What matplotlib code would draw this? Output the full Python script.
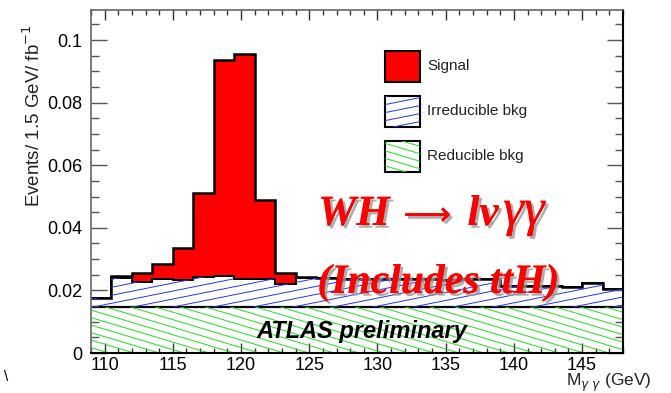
import numpy as np
import matplotlib
matplotlib.use('Agg')
import matplotlib.pyplot as plt
import matplotlib.patheffects as pe
from matplotlib.collections import LineCollection
from matplotlib.patches import Rectangle
from matplotlib.ticker import MultipleLocator, FuncFormatter

plt.rcParams['font.family'] = ['Liberation Sans', 'DejaVu Sans']
plt.rcParams['mathtext.fontset'] = 'dejavusans'

# 1.5 GeV bins from 109 to 148 GeV
edges = np.linspace(109, 148, 27)

# events / 1.5 GeV / fb^-1, stacked: reducible, irreducible, signal
reducible = [0.0148, 0.0148, 0.0148, 0.0148, 0.0148, 0.0148, 0.0148, 0.0148, 0.0148,
             0.0148, 0.0148, 0.0148, 0.0148, 0.0148, 0.0148, 0.0148, 0.0148, 0.0148,
             0.0148, 0.0148, 0.0148, 0.0148, 0.0148, 0.0148, 0.0148, 0.0148]
irreducible = [0.0027, 0.0092, 0.0078, 0.0089, 0.0085, 0.0096, 0.0099, 0.0087, 0.0089,
               0.0074, 0.0093, 0.0092, 0.0090, 0.0089, 0.0088, 0.0090, 0.0088, 0.0086,
               0.0088, 0.0087, 0.0065, 0.0066, 0.0065, 0.0064, 0.0075, 0.0055]
signal = [0.0, 0.0007, 0.0029, 0.0046, 0.0101, 0.0266, 0.0689, 0.0722, 0.0252,
          0.0033, 0.0003, 0.0, 0.0, 0.0, 0.0, 0.0, 0.0, 0.0,
          0.0, 0.0, 0.0, 0.0, 0.0, 0.0, 0.0, 0.0]

red_b = np.array(reducible)
bkg = red_b + np.array(irreducible)
tot = bkg + np.array(signal)

fig = plt.figure(figsize=(6.71, 3.93), dpi=100)
ax = fig.add_axes([91 / 671, 40 / 393, 532 / 671, 343 / 393])
W, H = 532, 343


def hatch(clip, slope, gap, color):
    # ROOT-like shallow hatching, drawn in axes space and clipped to a patch
    s = slope * W / H
    d = gap / H
    cs = np.arange(-abs(s) - d, 1 + abs(s) + d, d)
    segs = [[(0, c), (1, c + s)] for c in cs]
    lc = LineCollection(segs, colors=color, linewidths=0.7, transform=ax.transAxes)
    ax.add_collection(lc, autolim=False)
    lc.set_clip_path(clip)


green = '#22dd22'
blue = '#2233ff'

p_red = ax.stairs(red_b, edges, baseline=0, fill=True, color='white', lw=0)
hatch(p_red, -0.3, 7.5, green)
p_irr = ax.stairs(bkg, edges, baseline=red_b, fill=True, color='white', lw=0)
hatch(p_irr, 0.2, 8, blue)
ax.stairs(tot, edges, baseline=bkg, fill=True, color='red', lw=0)
ax.stairs(red_b, edges, baseline=None, color='k', lw=1.6)
ax.stairs(bkg, edges, baseline=None, color='k', lw=1.4)
ax.stairs(tot, edges, baseline=None, color='k', lw=1.8)

ax.set_xlim(109, 148)
ax.set_ylim(0, 0.1096)
ax.set_xticks([110, 115, 120, 125, 130, 135, 140, 145])
ax.xaxis.set_minor_locator(MultipleLocator(1))
ax.yaxis.set_major_locator(MultipleLocator(0.02))
ax.yaxis.set_minor_locator(MultipleLocator(0.005))
ax.yaxis.set_major_formatter(FuncFormatter(lambda v, p: '%g' % round(v, 3)))
ax.tick_params(which='both', direction='in', top=True, right=True, labelsize=13)
ax.tick_params(axis='y', which='major', length=11.5, width=1, color='#555', pad=6)
ax.tick_params(axis='y', which='minor', length=6, width=1, color='#555')
ax.tick_params(axis='x', which='major', length=7.5, width=1, color='#333', pad=3)
ax.tick_params(axis='x', which='minor', length=3.7, width=1, color='#333')
for side in ['left', 'top']:
    ax.spines[side].set_color('#666')
    ax.spines[side].set_linewidth(1.2)
for side in ['right', 'bottom']:
    ax.spines[side].set_color('k')
    ax.spines[side].set_linewidth(1.5)

# legend, drawn by hand so the hatching matches the histogram
lx, lw_, bh = 0.5526, 0.0658, 0.0903
legend_rows = [(0.7910, 'Signal'), (0.6598, 'Irreducible bkg'), (0.5286, 'Reducible bkg')]
for (y0, label), style in zip(legend_rows, ['sig', 'irr', 'red']):
    if style == 'sig':
        ax.add_patch(Rectangle((lx, y0), lw_, bh, transform=ax.transAxes,
                               fc='red', ec='k', lw=1.5))
    else:
        box = Rectangle((lx, y0), lw_, bh, transform=ax.transAxes, fc='white', ec='none')
        ax.add_patch(box)
        if style == 'irr':
            hatch(box, 0.2, 8, blue)
        else:
            hatch(box, -0.3, 7.5, green)
        ax.add_patch(Rectangle((lx, y0), lw_, bh, transform=ax.transAxes,
                               fill=False, ec='k', lw=1.5))
    ax.text(0.6316, y0 + bh / 2, label, transform=ax.transAxes, va='center',
            fontsize=11, color='#222')

shadow = [pe.withSimplePatchShadow(offset=(2, -2), shadow_rgbFace='#999999', alpha=0.8),
          pe.Normal()]
serif = ['Liberation Serif', 'DejaVu Serif']
big = dict(family=serif, style='italic', color='red', path_effects=shadow)
ax.text(125.64, 0.0409, 'WH', weight='bold', fontsize=31, **big)
ax.text(131.9, 0.0409, '⟶', weight='normal', fontsize=24,
        family=['DejaVu Sans'], color='red', path_effects=shadow)
ax.text(136.6, 0.0409, 'lv', weight='bold', fontsize=31, **big)
ax.text(139.2, 0.0409, 'γγ', weight='normal', fontsize=38, **big)
ax.text(125.6, 0.0192, '(Includes ttH)', weight='bold', fontsize=30, **big)
ax.text(121.13, 0.0047, 'ATLAS preliminary', weight='bold', style='italic',
        fontsize=17, color='k')

fig.text(33 / 671, 1 - 24 / 393, 'Events/ 1.5 GeV/ fb$^{-1}$', rotation=90,
         ha='center', va='top', fontsize=13.5, color='#222')
fig.text(652 / 671, 1 - 386 / 393, r'M$_{\gamma\ \gamma}$ (GeV)', ha='right',
         va='baseline', fontsize=12.5, color='#222')
fig.text(4 / 671, 1 - 381 / 393, '\\', fontsize=11, color='k')

fig.savefig('out.png', dpi=100)
